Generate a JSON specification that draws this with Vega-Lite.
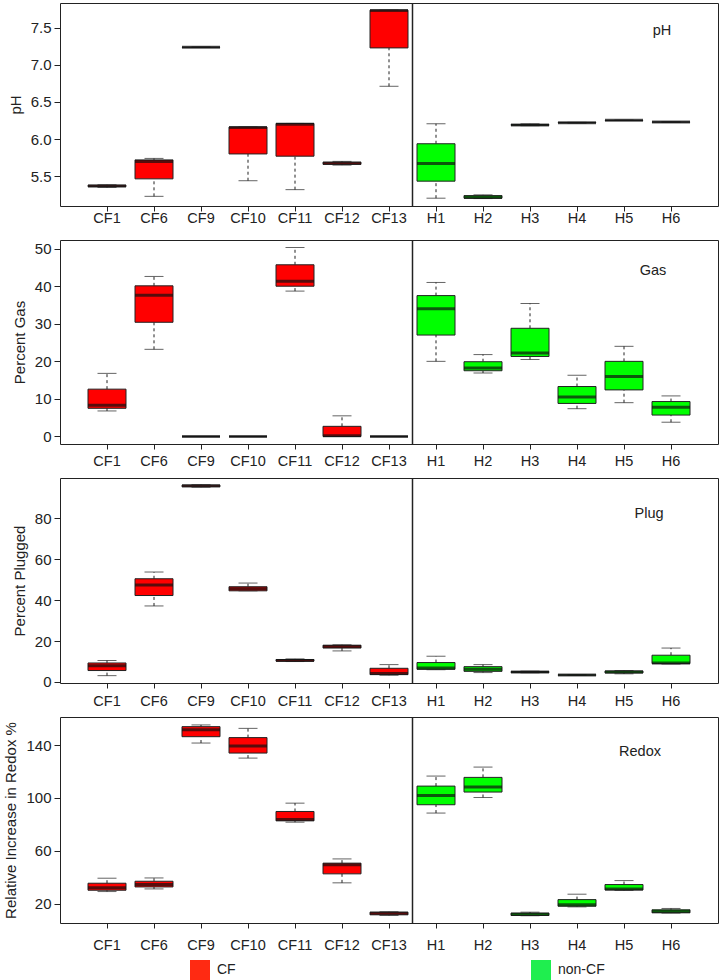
{
  "$schema": "https://vega.github.io/schema/vega-lite/v6.json",
  "padding": {"left": 3, "top": 1, "right": 3, "bottom": 0},
  "background": "white",
  "config": {
    "font": "Liberation Sans",
    "view": {"stroke": "#222", "strokeWidth": 1},
    "axis": {"grid": false, "domain": false, "tickColor": "#222", "tickSize": 6, "labelColor": "#222", "titleColor": "#222", "labelFontSize": 14.5, "titleFontSize": 15, "titleFontWeight": "normal", "labelFont": "Liberation Sans", "titleFont": "Liberation Sans", "titleLimit": 400},
    "axisY": {"labelFontSize": 15, "labelPadding": 3, "titlePadding": 7},
    "axisX": {"tickSize": 5, "labelAngle": 0},
    "text": {"font": "Liberation Sans"}
  },
  "datasets": {
    "ph": [
      {"s": "CF1", "g": "CF", "lo": 5.35, "q1": 5.36, "md": 5.37, "q3": 5.38, "hi": 5.385},
      {"s": "CF6", "g": "CF", "lo": 5.23, "q1": 5.465, "md": 5.70, "q3": 5.72, "hi": 5.74},
      {"s": "CF9", "g": "CF", "lo": 7.232, "q1": 7.234, "md": 7.235, "q3": 7.236, "hi": 7.238},
      {"s": "CF10", "g": "CF", "lo": 5.44, "q1": 5.80, "md": 6.155, "q3": 6.162, "hi": 6.162},
      {"s": "CF11", "g": "CF", "lo": 5.32, "q1": 5.77, "md": 6.20, "q3": 6.21, "hi": 6.21},
      {"s": "CF12", "g": "CF", "lo": 5.65, "q1": 5.66, "md": 5.676, "q3": 5.69, "hi": 5.70},
      {"s": "CF13", "g": "CF", "lo": 6.71, "q1": 7.226, "md": 7.73, "q3": 7.734, "hi": 7.734},
      {"s": "H1", "g": "non-CF", "lo": 5.205, "q1": 5.434, "md": 5.673, "q3": 5.937, "hi": 6.206},
      {"s": "H2", "g": "non-CF", "lo": 5.20, "q1": 5.205, "md": 5.215, "q3": 5.24, "hi": 5.25},
      {"s": "H3", "g": "non-CF", "lo": 6.18, "q1": 6.185, "md": 6.19, "q3": 6.195, "hi": 6.205},
      {"s": "H4", "g": "non-CF", "lo": 6.215, "q1": 6.218, "md": 6.22, "q3": 6.222, "hi": 6.225},
      {"s": "H5", "g": "non-CF", "lo": 6.25, "q1": 6.25, "md": 6.252, "q3": 6.253, "hi": 6.255},
      {"s": "H6", "g": "non-CF", "lo": 6.226, "q1": 6.228, "md": 6.229, "q3": 6.23, "hi": 6.232}
    ],
    "gas": [
      {"s": "CF1", "g": "CF", "lo": 6.8, "q1": 7.5, "md": 8.3, "q3": 12.6, "hi": 16.8},
      {"s": "CF6", "g": "CF", "lo": 23.2, "q1": 30.4, "md": 37.6, "q3": 40.1, "hi": 42.6},
      {"s": "CF9", "g": "CF", "lo": 0, "q1": 0, "md": 0, "q3": 0, "hi": 0},
      {"s": "CF10", "g": "CF", "lo": 0, "q1": 0, "md": 0, "q3": 0, "hi": 0},
      {"s": "CF11", "g": "CF", "lo": 38.7, "q1": 40.0, "md": 41.3, "q3": 45.7, "hi": 50.3},
      {"s": "CF12", "g": "CF", "lo": 0, "q1": 0, "md": 0.2, "q3": 2.7, "hi": 5.5},
      {"s": "CF13", "g": "CF", "lo": 0, "q1": 0, "md": 0, "q3": 0, "hi": 0},
      {"s": "H1", "g": "non-CF", "lo": 20.0, "q1": 27.0, "md": 34.0, "q3": 37.5, "hi": 41.0},
      {"s": "H2", "g": "non-CF", "lo": 16.9, "q1": 17.5, "md": 18.2, "q3": 19.9, "hi": 21.8},
      {"s": "H3", "g": "non-CF", "lo": 20.5, "q1": 21.3, "md": 22.2, "q3": 28.8, "hi": 35.4},
      {"s": "H4", "g": "non-CF", "lo": 7.4, "q1": 8.8, "md": 10.5, "q3": 13.3, "hi": 16.3},
      {"s": "H5", "g": "non-CF", "lo": 9.0, "q1": 12.4, "md": 16.0, "q3": 20.0, "hi": 24.0},
      {"s": "H6", "g": "non-CF", "lo": 3.8, "q1": 5.7, "md": 7.8, "q3": 9.3, "hi": 10.8}
    ],
    "plug": [
      {"s": "CF1", "g": "CF", "lo": 3.1, "q1": 5.6, "md": 8.0, "q3": 9.3, "hi": 10.5},
      {"s": "CF6", "g": "CF", "lo": 37.2, "q1": 42.3, "md": 47.4, "q3": 50.5, "hi": 53.8},
      {"s": "CF9", "g": "CF", "lo": 95.3, "q1": 95.5, "md": 96.0, "q3": 96.3, "hi": 96.5},
      {"s": "CF10", "g": "CF", "lo": 44.6, "q1": 44.6, "md": 45.6, "q3": 46.6, "hi": 48.4},
      {"s": "CF11", "g": "CF", "lo": 10.0, "q1": 10.2, "md": 10.5, "q3": 11.0, "hi": 11.3},
      {"s": "CF12", "g": "CF", "lo": 15.2, "q1": 16.6, "md": 17.4, "q3": 18.0, "hi": 18.2},
      {"s": "CF13", "g": "CF", "lo": 3.3, "q1": 3.6, "md": 4.1, "q3": 6.7, "hi": 8.5},
      {"s": "H1", "g": "non-CF", "lo": 6.0, "q1": 6.2, "md": 6.9, "q3": 9.5, "hi": 12.6},
      {"s": "H2", "g": "non-CF", "lo": 4.6, "q1": 5.2, "md": 6.2, "q3": 7.5, "hi": 8.5},
      {"s": "H3", "g": "non-CF", "lo": 4.5, "q1": 4.6, "md": 4.9, "q3": 5.1, "hi": 5.3},
      {"s": "H4", "g": "non-CF", "lo": 3.2, "q1": 3.3, "md": 3.4, "q3": 3.5, "hi": 3.6},
      {"s": "H5", "g": "non-CF", "lo": 4.0, "q1": 4.4, "md": 4.9, "q3": 5.4, "hi": 5.6},
      {"s": "H6", "g": "non-CF", "lo": 8.8, "q1": 9.0, "md": 9.3, "q3": 13.1, "hi": 16.6}
    ],
    "redox": [
      {"s": "CF1", "g": "CF", "lo": 29.1, "q1": 30.1, "md": 31.9, "q3": 35.4, "hi": 39.2},
      {"s": "CF6", "g": "CF", "lo": 31.1, "q1": 32.6, "md": 34.4, "q3": 36.9, "hi": 39.4},
      {"s": "CF9", "g": "CF", "lo": 141.5, "q1": 146.3, "md": 151.6, "q3": 153.9, "hi": 155.2},
      {"s": "CF10", "g": "CF", "lo": 130.1, "q1": 133.9, "md": 139.2, "q3": 145.6, "hi": 152.6},
      {"s": "CF11", "g": "CF", "lo": 81.6, "q1": 82.6, "md": 83.7, "q3": 89.7, "hi": 96.0},
      {"s": "CF12", "g": "CF", "lo": 35.7, "q1": 42.5, "md": 49.3, "q3": 50.6, "hi": 53.8},
      {"s": "CF13", "g": "CF", "lo": 11.0, "q1": 11.5, "md": 12.7, "q3": 13.5, "hi": 13.8},
      {"s": "H1", "g": "non-CF", "lo": 88.5, "q1": 94.8, "md": 101.8, "q3": 108.9, "hi": 116.5},
      {"s": "H2", "g": "non-CF", "lo": 100.3, "q1": 104.4, "md": 108.2, "q3": 115.5, "hi": 123.3},
      {"s": "H3", "g": "non-CF", "lo": 10.8, "q1": 11.0, "md": 11.9, "q3": 12.8, "hi": 13.5},
      {"s": "H4", "g": "non-CF", "lo": 17.5, "q1": 18.0, "md": 19.2, "q3": 23.0, "hi": 27.1},
      {"s": "H5", "g": "non-CF", "lo": 30.0, "q1": 30.3, "md": 31.1, "q3": 34.4, "hi": 37.4},
      {"s": "H6", "g": "non-CF", "lo": 12.8, "q1": 13.0, "md": 14.0, "q3": 15.3, "hi": 16.3}
    ],
    "divider": [{"s": "H1"}]
  },
  "bounds": "flush",
  "spacing": 34,
  "vconcat": [
    {
      "width": 658, "height": 203,
      "data": {"name": "ph"},
      "encoding": {"x": {"field": "s", "type": "nominal", "scale": {"domain": ["CF1","CF6","CF9","CF10","CF11","CF12","CF13","H1","H2","H3","H4","H5","H6"], "paddingInner": 0, "paddingOuter": 0.5}, "axis": {"title": null, "labelPadding": 0}}},
      "layer": [
        {"mark": {"type": "rule", "strokeDash": [3, 3], "color": "#222"}, "encoding": {"y": {"field": "lo", "type": "quantitative", "scale": {"domain": [5.1, 7.83], "zero": false, "nice": false}, "axis": {"title": "pH", "values": [5.5, 6, 6.5, 7, 7.5], "format": ".1f"}}, "y2": {"field": "q1"}}},
        {"mark": {"type": "rule", "strokeDash": [3, 3], "color": "#222"}, "encoding": {"y": {"field": "q3", "type": "quantitative"}, "y2": {"field": "hi"}}},
        {"mark": {"type": "tick", "size": 19, "thickness": 1, "color": "#222"}, "encoding": {"y": {"field": "lo", "type": "quantitative"}}},
        {"mark": {"type": "tick", "size": 19, "thickness": 1, "color": "#222"}, "encoding": {"y": {"field": "hi", "type": "quantitative"}}},
        {"mark": {"type": "bar", "size": 38, "stroke": "#222", "strokeWidth": 1}, "encoding": {"y": {"field": "q1", "type": "quantitative"}, "y2": {"field": "q3"}, "fill": {"field": "g", "type": "nominal", "scale": {"range": ["#ff0000", "#00ff00"]}, "legend": null}}},
        {"mark": {"type": "tick", "size": 38, "thickness": 3, "color": "#111"}, "encoding": {"y": {"field": "md", "type": "quantitative"}}},
        {"data": {"values": [{"t": "pH", "s": "H6", "v": 7.455}]}, "mark": {"type": "text", "dx": -9, "fontSize": 14.5, "color": "#222", "baseline": "middle"}, "encoding": {"y": {"field": "v", "type": "quantitative"}, "text": {"field": "t"}}},
        {"data": {"name": "divider"}, "mark": {"type": "rule", "strokeWidth": 1.5, "color": "#222"}, "encoding": {"x": {"field": "s", "type": "nominal", "bandPosition": 0}}}
      ]
    },
    {
      "width": 658, "height": 204,
      "data": {"name": "gas"},
      "encoding": {"x": {"field": "s", "type": "nominal", "scale": {"domain": ["CF1","CF6","CF9","CF10","CF11","CF12","CF13","H1","H2","H3","H4","H5","H6"], "paddingInner": 0, "paddingOuter": 0.5}, "axis": {"title": null, "labelPadding": 5}}},
      "layer": [
        {"mark": {"type": "rule", "strokeDash": [3, 3], "color": "#222"}, "encoding": {"y": {"field": "lo", "type": "quantitative", "scale": {"domain": [-2, 52.3], "zero": false, "nice": false}, "axis": {"title": "Percent Gas", "values": [0, 10, 20, 30, 40, 50]}}, "y2": {"field": "q1"}}},
        {"mark": {"type": "rule", "strokeDash": [3, 3], "color": "#222"}, "encoding": {"y": {"field": "q3", "type": "quantitative"}, "y2": {"field": "hi"}}},
        {"mark": {"type": "tick", "size": 19, "thickness": 1, "color": "#222"}, "encoding": {"y": {"field": "lo", "type": "quantitative"}}},
        {"mark": {"type": "tick", "size": 19, "thickness": 1, "color": "#222"}, "encoding": {"y": {"field": "hi", "type": "quantitative"}}},
        {"mark": {"type": "bar", "size": 38, "stroke": "#222", "strokeWidth": 1}, "encoding": {"y": {"field": "q1", "type": "quantitative"}, "y2": {"field": "q3"}, "fill": {"field": "g", "type": "nominal", "scale": {"range": ["#ff0000", "#00ff00"]}, "legend": null}}},
        {"mark": {"type": "tick", "size": 38, "thickness": 3, "color": "#111"}, "encoding": {"y": {"field": "md", "type": "quantitative"}}},
        {"data": {"values": [{"t": "Gas", "s": "H6", "v": 44.1}]}, "mark": {"type": "text", "dx": -18, "fontSize": 14.5, "color": "#222", "baseline": "middle"}, "encoding": {"y": {"field": "v", "type": "quantitative"}, "text": {"field": "t"}}},
        {"data": {"name": "divider"}, "mark": {"type": "rule", "strokeWidth": 1.5, "color": "#222"}, "encoding": {"x": {"field": "s", "type": "nominal", "bandPosition": 0}}}
      ]
    },
    {
      "width": 658, "height": 205,
      "data": {"name": "plug"},
      "encoding": {"x": {"field": "s", "type": "nominal", "scale": {"domain": ["CF1","CF6","CF9","CF10","CF11","CF12","CF13","H1","H2","H3","H4","H5","H6"], "paddingInner": 0, "paddingOuter": 0.5}, "axis": {"title": null, "labelPadding": 6}}},
      "layer": [
        {"mark": {"type": "rule", "strokeDash": [3, 3], "color": "#222"}, "encoding": {"y": {"field": "lo", "type": "quantitative", "scale": {"domain": [-0.5, 99.8], "zero": false, "nice": false}, "axis": {"title": "Percent Plugged", "values": [0, 20, 40, 60, 80]}}, "y2": {"field": "q1"}}},
        {"mark": {"type": "rule", "strokeDash": [3, 3], "color": "#222"}, "encoding": {"y": {"field": "q3", "type": "quantitative"}, "y2": {"field": "hi"}}},
        {"mark": {"type": "tick", "size": 19, "thickness": 1, "color": "#222"}, "encoding": {"y": {"field": "lo", "type": "quantitative"}}},
        {"mark": {"type": "tick", "size": 19, "thickness": 1, "color": "#222"}, "encoding": {"y": {"field": "hi", "type": "quantitative"}}},
        {"mark": {"type": "bar", "size": 38, "stroke": "#222", "strokeWidth": 1}, "encoding": {"y": {"field": "q1", "type": "quantitative"}, "y2": {"field": "q3"}, "fill": {"field": "g", "type": "nominal", "scale": {"range": ["#ff0000", "#00ff00"]}, "legend": null}}},
        {"mark": {"type": "tick", "size": 38, "thickness": 3, "color": "#111"}, "encoding": {"y": {"field": "md", "type": "quantitative"}}},
        {"data": {"values": [{"t": "Plug", "s": "H6", "v": 82.3}]}, "mark": {"type": "text", "dx": -22, "fontSize": 14.5, "color": "#222", "baseline": "middle"}, "encoding": {"y": {"field": "v", "type": "quantitative"}, "text": {"field": "t"}}},
        {"data": {"name": "divider"}, "mark": {"type": "rule", "strokeWidth": 1.5, "color": "#222"}, "encoding": {"x": {"field": "s", "type": "nominal", "bandPosition": 0}}}
      ]
    },
    {
      "width": 658, "height": 206,
      "data": {"name": "redox"},
      "encoding": {"x": {"field": "s", "type": "nominal", "scale": {"domain": ["CF1","CF6","CF9","CF10","CF11","CF12","CF13","H1","H2","H3","H4","H5","H6"], "paddingInner": 0, "paddingOuter": 0.5}, "axis": {"title": null, "labelPadding": 10}}},
      "layer": [
        {"mark": {"type": "rule", "strokeDash": [3, 3], "color": "#222"}, "encoding": {"y": {"field": "lo", "type": "quantitative", "scale": {"domain": [5.3, 161.2], "zero": false, "nice": false}, "axis": {"title": "Relative Increase in Redox %", "values": [20, 40, 60, 80, 100, 120, 140], "labelExpr": "datum.value % 40 == 20 ? datum.label : ''"}}, "y2": {"field": "q1"}}},
        {"mark": {"type": "rule", "strokeDash": [3, 3], "color": "#222"}, "encoding": {"y": {"field": "q3", "type": "quantitative"}, "y2": {"field": "hi"}}},
        {"mark": {"type": "tick", "size": 19, "thickness": 1, "color": "#222"}, "encoding": {"y": {"field": "lo", "type": "quantitative"}}},
        {"mark": {"type": "tick", "size": 19, "thickness": 1, "color": "#222"}, "encoding": {"y": {"field": "hi", "type": "quantitative"}}},
        {"mark": {"type": "bar", "size": 38, "stroke": "#222", "strokeWidth": 1}, "encoding": {"y": {"field": "q1", "type": "quantitative"}, "y2": {"field": "q3"}, "fill": {"field": "g", "type": "nominal", "scale": {"range": ["#ff0000", "#00ff00"]}, "legend": null}}},
        {"mark": {"type": "tick", "size": 38, "thickness": 3, "color": "#111"}, "encoding": {"y": {"field": "md", "type": "quantitative"}}},
        {"mark": {"type": "square", "size": 0}, "encoding": {"y": {"field": "md", "type": "quantitative"}, "color": {"field": "g", "type": "nominal", "scale": {"domain": ["CF", "non-CF"], "range": ["#ff2a12", "#1fee4f"]}, "legend": {"orient": "none", "legendX": 130, "legendY": 957, "direction": "horizontal", "title": null, "symbolType": "square", "symbolSize": 400, "symbolOpacity": 1, "symbolStrokeWidth": 0, "labelFontSize": 14, "labelOffset": 7, "columnPadding": 295, "padding": 0, "labelColor": "#222", "labelFont": "Liberation Sans"}}}},
        {"data": {"values": [{"t": "Redox", "s": "H6", "v": 134.7}]}, "mark": {"type": "text", "dx": -31, "fontSize": 14.5, "color": "#222", "baseline": "middle"}, "encoding": {"y": {"field": "v", "type": "quantitative"}, "text": {"field": "t"}}},
        {"data": {"name": "divider"}, "mark": {"type": "rule", "strokeWidth": 1.5, "color": "#222"}, "encoding": {"x": {"field": "s", "type": "nominal", "bandPosition": 0}}}
      ]
    }
  ]
}
